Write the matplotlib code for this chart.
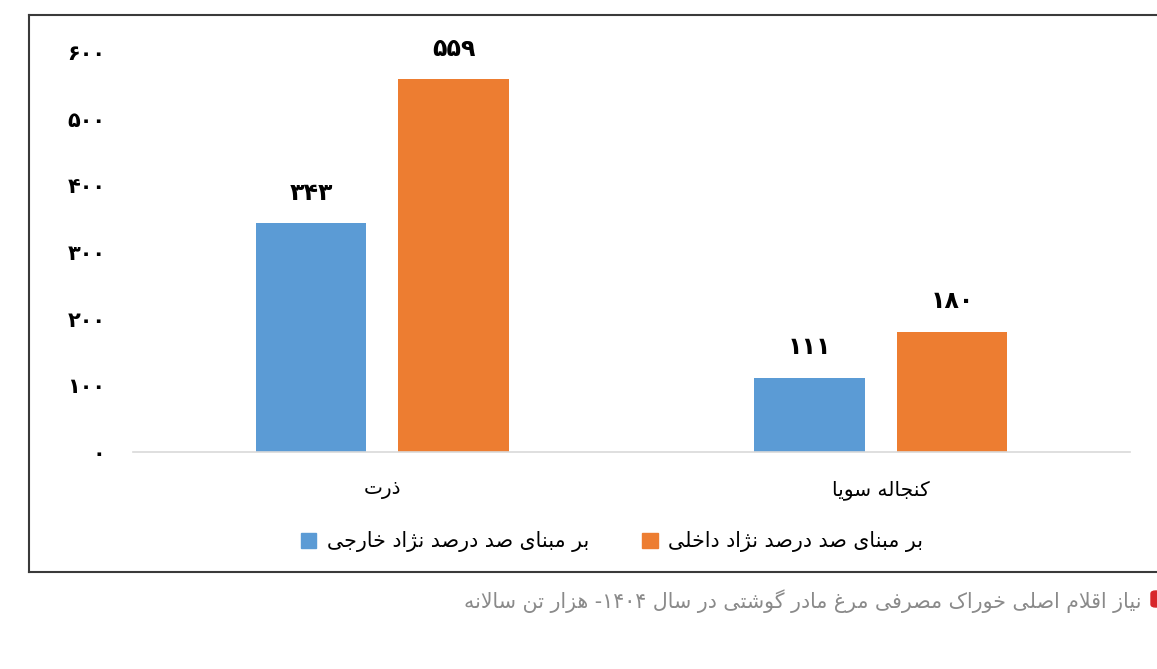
import re
import matplotlib
matplotlib.use('Agg')
import matplotlib.pyplot as plt
import numpy as np
from matplotlib.lines import Line2D
from matplotlib.patches import FancyBboxPatch, Patch

plt.rcParams['font.family'] = ['DejaVu Sans']

categories = ['ذرت', 'کنجاله سویا']
foreign = [343, 111]    # بر مبنای صد درصد نژاد خارجی
domestic = [559, 180]   # بر مبنای صد درصد نژاد داخلی
series_names = ['بر مبنای صد درصد نژاد خارجی', 'بر مبنای صد درصد نژاد داخلی']
yticks = [0, 100, 200, 300, 400, 500, 600]
caption = 'نیاز اقلام اصلی خوراک مصرفی مرغ مادر گوشتی در سال ۱۴۰۴- هزار تن سالانه'

# presentation forms: isolated, final, initial, medial (None = does not join next)
FORMS = {
    '\u0621': ('\uFE80', None, None, None),
    '\u0622': ('\uFE81', '\uFE82', None, None),
    '\u0627': ('\uFE8D', '\uFE8E', None, None),
    '\u0626': ('\uFE89', '\uFE8A', '\uFE8B', '\uFE8C'),
    '\u0628': ('\uFE8F', '\uFE90', '\uFE91', '\uFE92'),
    '\u067E': ('\uFB56', '\uFB57', '\uFB58', '\uFB59'),
    '\u062A': ('\uFE95', '\uFE96', '\uFE97', '\uFE98'),
    '\u062B': ('\uFE99', '\uFE9A', '\uFE9B', '\uFE9C'),
    '\u062C': ('\uFE9D', '\uFE9E', '\uFE9F', '\uFEA0'),
    '\u0686': ('\uFB7A', '\uFB7B', '\uFB7C', '\uFB7D'),
    '\u062D': ('\uFEA1', '\uFEA2', '\uFEA3', '\uFEA4'),
    '\u062E': ('\uFEA5', '\uFEA6', '\uFEA7', '\uFEA8'),
    '\u062F': ('\uFEA9', '\uFEAA', None, None),
    '\u0630': ('\uFEAB', '\uFEAC', None, None),
    '\u0631': ('\uFEAD', '\uFEAE', None, None),
    '\u0632': ('\uFEAF', '\uFEB0', None, None),
    '\u0698': ('\uFB8A', '\uFB8B', None, None),
    '\u0633': ('\uFEB1', '\uFEB2', '\uFEB3', '\uFEB4'),
    '\u0634': ('\uFEB5', '\uFEB6', '\uFEB7', '\uFEB8'),
    '\u0635': ('\uFEB9', '\uFEBA', '\uFEBB', '\uFEBC'),
    '\u0636': ('\uFEBD', '\uFEBE', '\uFEBF', '\uFEC0'),
    '\u0637': ('\uFEC1', '\uFEC2', '\uFEC3', '\uFEC4'),
    '\u0638': ('\uFEC5', '\uFEC6', '\uFEC7', '\uFEC8'),
    '\u0639': ('\uFEC9', '\uFECA', '\uFECB', '\uFECC'),
    '\u063A': ('\uFECD', '\uFECE', '\uFECF', '\uFED0'),
    '\u0641': ('\uFED1', '\uFED2', '\uFED3', '\uFED4'),
    '\u0642': ('\uFED5', '\uFED6', '\uFED7', '\uFED8'),
    '\u06A9': ('\uFB8E', '\uFB8F', '\uFB90', '\uFB91'),
    '\u06AF': ('\uFB92', '\uFB93', '\uFB94', '\uFB95'),
    '\u0644': ('\uFEDD', '\uFEDE', '\uFEDF', '\uFEE0'),
    '\u0645': ('\uFEE1', '\uFEE2', '\uFEE3', '\uFEE4'),
    '\u0646': ('\uFEE5', '\uFEE6', '\uFEE7', '\uFEE8'),
    '\u0647': ('\uFEE9', '\uFEEA', '\uFEEB', '\uFEEC'),
    '\u0648': ('\uFEED', '\uFEEE', None, None),
    '\u06CC': ('\uFBFC', '\uFBFD', '\uFBFE', '\uFBFF'),
}
LAM_ALEF = {'\u0627': ('\uFEFB', '\uFEFC'), '\u0622': ('\uFEF5', '\uFEF6')}


def joins_next(c):
    return c in FORMS and FORMS[c][2] is not None


def shape(text):
    out = []
    i = 0
    n = len(text)
    while i < n:
        c = text[i]
        if c not in FORMS:
            out.append(c)
            i += 1
            continue
        jp = i > 0 and joins_next(text[i - 1])
        if c == '\u0644' and i + 1 < n and text[i + 1] in LAM_ALEF:
            iso, fin = LAM_ALEF[text[i + 1]]
            out.append(fin if jp else iso)
            i += 2
            continue
        jn = joins_next(c) and i + 1 < n and text[i + 1] in FORMS
        iso, fin, ini, med = FORMS[c]
        if jp and jn:
            out.append(med)
        elif jp:
            out.append(fin)
        elif jn:
            out.append(ini)
        else:
            out.append(iso)
        i += 1
    return ''.join(out)


def rtl(text):
    # shape, then reverse for display but keep digit runs left-to-right
    tokens = re.findall(r'[0-9\u06F0-\u06F9]+|.', shape(text))
    return ''.join(reversed(tokens))


def fa_num(v):
    return str(v).translate(str.maketrans('0123456789', '۰۱۲۳۴۵۶۷۸۹'))


W, H = 1157, 669
fig = plt.figure(figsize=(W / 100, H / 100), dpi=100)
ax = fig.add_axes([133 / W, 1 - 452 / H, (1130 - 133) / W, (452 - 52) / H])

blue = '#5B9BD5'
orange = '#ED7D31'
x = np.arange(len(categories))
width = 0.222
b1 = ax.bar(x - 0.143, foreign, width, color=blue)
b2 = ax.bar(x + 0.143, domestic, width, color=orange)

for bars, vals in [(b1, foreign), (b2, domestic)]:
    for rect, v in zip(bars, vals):
        ax.annotate(fa_num(v), (rect.get_x() + rect.get_width() / 2, v),
                    xytext=(0, 22), textcoords='offset points',
                    ha='center', va='center', fontsize=17, fontweight='bold')

ax.set_xlim(-0.5, 1.5)
ax.set_ylim(0, 600)
ax.set_yticks(yticks)
ax.set_yticklabels([fa_num(t) for t in yticks], fontsize=15, fontweight='bold')
ax.set_xticks(x)
ax.set_xticklabels([rtl(c) for c in categories], fontsize=14.5)
ax.tick_params(axis='y', length=0, pad=20)
ax.tick_params(axis='x', length=0, pad=20)
for s in ['top', 'right', 'left']:
    ax.spines[s].set_visible(False)
ax.spines['bottom'].set_color('#d9d9d9')
ax.spines['bottom'].set_linewidth(1.2)

handles = [Patch(color=blue), Patch(color=orange)]
fig.legend(handles, [rtl(s) for s in series_names], loc='center',
           bbox_to_anchor=(612 / W, 1 - 542 / H), ncol=2, frameon=False,
           fontsize=14.8, handlelength=0.75, handleheight=0.75,
           handletextpad=0.5, columnspacing=2.6)

# outer frame (open on the right, cropped)
fc = '#3a3a3a'
fig.add_artist(Line2D([29 / W, 29 / W], [1 - 15 / H, 1 - 572 / H], transform=fig.transFigure, color=fc, lw=1.5))
fig.add_artist(Line2D([29 / W, 1], [1 - 15 / H, 1 - 15 / H], transform=fig.transFigure, color=fc, lw=1.5))
fig.add_artist(Line2D([29 / W, 1], [1 - 572 / H, 1 - 572 / H], transform=fig.transFigure, color=fc, lw=1.5))

# caption with red marker
fig.text(1142 / W, 1 - 601 / H, rtl(caption), ha='right', va='center',
         fontsize=14.8, color='#8a8a8a')
fig.add_artist(FancyBboxPatch((1151 / W, 1 - 607 / H), 10 / W, 16 / H,
                              boxstyle='round,pad=0,rounding_size=0.004',
                              transform=fig.transFigure, color='#d7262b'))

fig.savefig('out.png', dpi=100)
